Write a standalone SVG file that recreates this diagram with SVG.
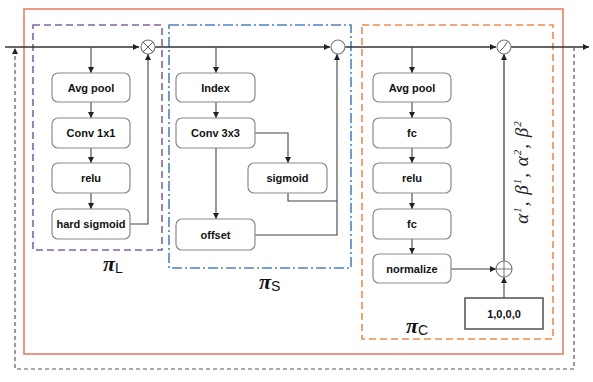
<svg xmlns="http://www.w3.org/2000/svg" width="593" height="382" viewBox="0 0 593 382">
<style>
.node rect{fill:#fff;stroke:#8a8a8a;stroke-width:1.2}
.node text{font-family:"Liberation Sans",Arial,sans-serif;font-weight:bold;font-size:11px;fill:#111;text-anchor:middle}
.conn{fill:none;stroke:#444;stroke-width:1.1}
.main{fill:none;stroke:#333;stroke-width:1.6}
.op{fill:#fff;stroke:#777;stroke-width:1.1}
.lbl{font-family:"Liberation Serif","Times New Roman",serif;font-style:italic;font-weight:bold;font-size:22px;fill:#111}
.sub{font-family:"Liberation Sans",Arial,sans-serif;font-style:normal;font-weight:normal;font-size:14px}
</style>
<defs>
<marker id="ah" viewBox="0 0 6 6" refX="6" refY="3" markerWidth="6" markerHeight="6" markerUnits="userSpaceOnUse" orient="auto">
<path d="M0,0 L6,3 L0,6 z" fill="#222"/>
</marker>
</defs>
<rect width="593" height="382" fill="#fff"/>
<g id="frames">
<rect x="24" y="9" width="539" height="345" fill="none" stroke="#E97F6A" stroke-width="1.6"/>
<rect x="33" y="25" width="129" height="225" fill="none" stroke="#8064A2" stroke-width="1.6" stroke-dasharray="7,4"/>
<rect x="169" y="25" width="182" height="243" fill="none" stroke="#4F81BD" stroke-width="1.6" stroke-dasharray="10,3,2,3"/>
<rect x="362" y="25" width="191" height="314" fill="none" stroke="#F08A4B" stroke-width="1.6" stroke-dasharray="7,4"/>
</g>
<g id="connectors">
<path class="main" d="M5,47 H139" marker-end="url(#ah)"/>
<path class="main" d="M155,47 H330" marker-end="url(#ah)"/>
<path class="main" d="M345,47 H496" marker-end="url(#ah)"/>
<path class="main" d="M511,47 H589" marker-end="url(#ah)"/>
<path d="M574,47 V369 H15 V48" fill="none" stroke="#555" stroke-width="1.2" stroke-dasharray="4,3" marker-end="url(#ah)"/>
<path class="conn" d="M91,47 V73" marker-end="url(#ah)"/>
<path class="conn" d="M91,102 V118" marker-end="url(#ah)"/>
<path class="conn" d="M91,148 V163" marker-end="url(#ah)"/>
<path class="conn" d="M91,193 V209" marker-end="url(#ah)"/>
<path class="conn" d="M130,224 H148 V54" marker-end="url(#ah)"/>
<path class="conn" d="M216,47 V73" marker-end="url(#ah)"/>
<path class="conn" d="M216,102 V118" marker-end="url(#ah)"/>
<path class="conn" d="M255,133 H288 V163" marker-end="url(#ah)"/>
<path class="conn" d="M216,148 V219" marker-end="url(#ah)"/>
<path class="conn" d="M288,193 V201 H337"/>
<path class="conn" d="M255,235 H337 V54" marker-end="url(#ah)"/>
<path class="conn" d="M412,47 V73" marker-end="url(#ah)"/>
<path class="conn" d="M412,102 V118" marker-end="url(#ah)"/>
<path class="conn" d="M412,148 V163" marker-end="url(#ah)"/>
<path class="conn" d="M412,193 V209" marker-end="url(#ah)"/>
<path class="conn" d="M412,239 V254" marker-end="url(#ah)"/>
<path class="conn" d="M451,269 H496" marker-end="url(#ah)"/>
<path class="conn" d="M504,298 V277" marker-end="url(#ah)"/>
<path d="M504,261 V54" fill="none" stroke="#666" stroke-width="1.6" marker-end="url(#ah)"/>
</g>
<g id="op-mul">
<circle class="op" cx="148" cy="47" r="7"/>
<path d="M143,42 L153,52 M153,42 L143,52" stroke="#666" stroke-width="1"/>
</g>
<g id="op-s">
<circle class="op" cx="338" cy="47" r="7"/>
</g>
<g id="op-c">
<circle class="op" cx="504" cy="47" r="7"/>
<path d="M500,51 Q504,48 507,42" fill="none" stroke="#555" stroke-width="1"/>
</g>
<g id="op-add">
<circle class="op" cx="504" cy="269" r="8"/>
<path d="M496,269 H512 M504,261 V277" stroke="#777" stroke-width="1"/>
</g>
<g id="L-avgpool" class="node"><rect x="52" y="73" width="78" height="29" rx="6"/><text x="91" y="91.5">Avg pool</text></g>
<g id="L-conv" class="node"><rect x="52" y="118" width="78" height="30" rx="6"/><text x="91" y="137">Conv 1x1</text></g>
<g id="L-relu" class="node"><rect x="52" y="163" width="78" height="30" rx="6"/><text x="91" y="182">relu</text></g>
<g id="L-hsig" class="node"><rect x="52" y="209" width="78" height="30" rx="6"/><text x="91" y="228">hard sigmoid</text></g>
<g id="S-index" class="node"><rect x="176" y="73" width="79" height="29" rx="6"/><text x="215.5" y="91.5">Index</text></g>
<g id="S-conv" class="node"><rect x="176" y="118" width="79" height="30" rx="6"/><text x="215.5" y="137">Conv 3x3</text></g>
<g id="S-sigmoid" class="node"><rect x="248" y="163" width="79" height="30" rx="6"/><text x="287.5" y="182">sigmoid</text></g>
<g id="S-offset" class="node"><rect x="176" y="219" width="79" height="31" rx="6"/><text x="215.5" y="238.5">offset</text></g>
<g id="C-avgpool" class="node"><rect x="373" y="73" width="78" height="29" rx="6"/><text x="412" y="91.5">Avg pool</text></g>
<g id="C-fc1" class="node"><rect x="373" y="118" width="78" height="30" rx="6"/><text x="412" y="137">fc</text></g>
<g id="C-relu" class="node"><rect x="373" y="163" width="78" height="30" rx="6"/><text x="412" y="182">relu</text></g>
<g id="C-fc2" class="node"><rect x="373" y="209" width="78" height="30" rx="6"/><text x="412" y="228">fc</text></g>
<g id="C-norm" class="node"><rect x="373" y="254" width="78" height="29" rx="6"/><text x="412" y="272.5">normalize</text></g>
<g id="C-const" class="node"><rect x="465" y="298" width="78" height="31" rx="0" style="stroke:#444;stroke-width:1.4"/><text x="504" y="317.5">1,0,0,0</text></g>
<g id="labels">
<text class="lbl" x="103" y="271">π<tspan class="sub" dy="2">L</tspan></text>
<text class="lbl" x="259" y="289">π<tspan class="sub" dy="2">S</tspan></text>
<text class="lbl" x="406" y="333">π<tspan class="sub" dy="2">C</tspan></text>
<text x="0" y="0" transform="translate(528,172) rotate(-90)" text-anchor="middle" style="font-family:'Liberation Serif','Times New Roman',serif;font-style:italic;font-size:19px;fill:#222;letter-spacing:1px">α<tspan dy="-7" font-size="11">1</tspan><tspan dy="7">, β</tspan><tspan dy="-7" font-size="11">1</tspan><tspan dy="7">, α</tspan><tspan dy="-7" font-size="11">2</tspan><tspan dy="7">, β</tspan><tspan dy="-7" font-size="11">2</tspan></text>
</g>
</svg>
